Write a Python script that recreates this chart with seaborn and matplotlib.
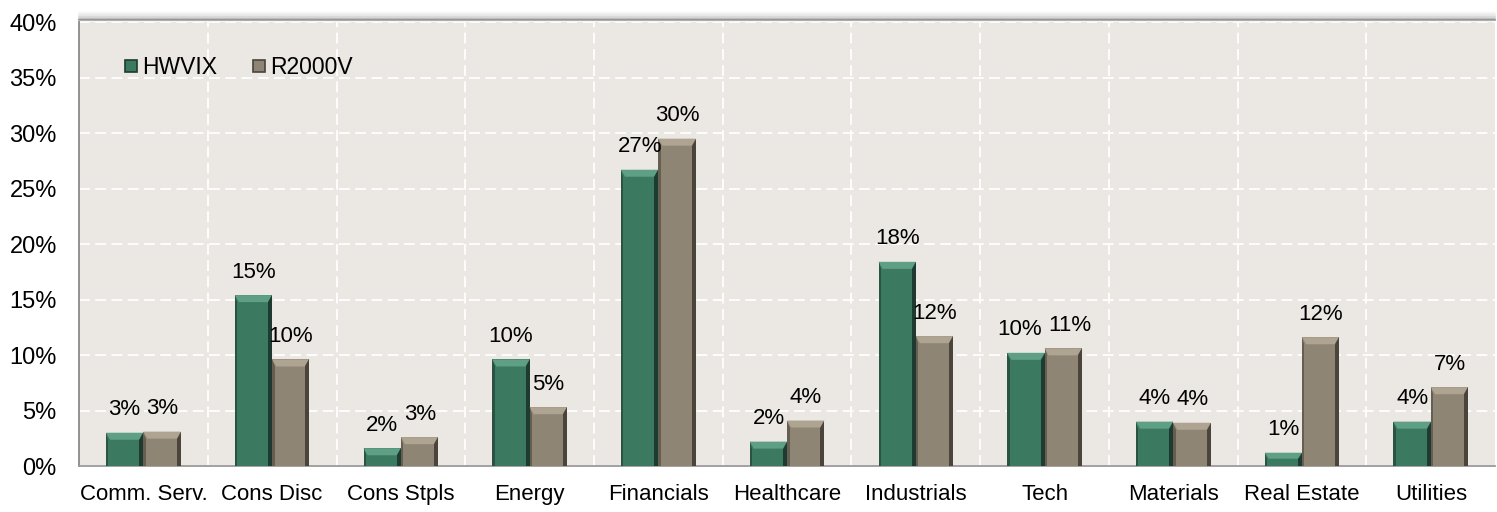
import pandas as pd
import numpy as np
import seaborn as sns
import matplotlib.pyplot as plt
from matplotlib.patches import Polygon
from matplotlib.lines import Line2D
from matplotlib.ticker import FuncFormatter, MultipleLocator, FixedLocator

# data (% weight by sector)
sectors = ['Comm. Serv.', 'Cons Disc', 'Cons Stpls', 'Energy', 'Financials', 'Healthcare',
           'Industrials', 'Tech', 'Materials', 'Real Estate', 'Utilities']
hwvix = [3.0, 15.4, 1.6, 9.6, 26.7, 2.2, 18.4, 10.2, 4.0, 1.2, 4.0]
r2000v = [3.1, 9.6, 2.6, 5.3, 29.5, 4.1, 11.7, 10.6, 3.9, 11.6, 7.1]
funds = ['HWVIX', 'R2000V']

df = pd.DataFrame({
    'sector': sectors * 2,
    'weight': hwvix + r2000v,
    'fund': [funds[0]] * len(sectors) + [funds[1]] * len(sectors),
})

colors = {'HWVIX': '#3b7a61', 'R2000V': '#8e8574'}
light = {'HWVIX': '#5e9f85', 'R2000V': '#aea491'}
dark = {'HWVIX': '#1d3b30', 'R2000V': '#4a443a'}
bg = '#ebe8e3'

sns.set_style('white')
plt.rcParams['font.family'] = ['Liberation Sans', 'DejaVu Sans']

fig = plt.figure(figsize=(14.97, 5.12), dpi=100)
ax = fig.add_axes([0.0528, 0.0898, 0.946, 0.867])
ax.set_facecolor(bg)

sns.barplot(data=df, x='sector', y='weight', hue='fund', hue_order=funds,
            palette=colors, width=0.58, gap=0, saturation=1, linewidth=0,
            legend=False, ax=ax, zorder=3)

ax.set_xlim(-0.5, len(sectors) - 0.5)
ax.set_ylim(0, 40)

# bevel look on every bar, built from the bar geometry
px_x = (len(sectors)) / (0.946 * 1497)
px_y = 40 / (0.867 * 512)
label_sets = []
for container, fund in zip(ax.containers, funds):
    for bar in container:
        x0, w, h = bar.get_x(), bar.get_width(), bar.get_height()
        if h <= 0:
            continue
        dx = 4 * px_x
        dy = min(7 * px_y, h * 0.45)
        top = Polygon([(x0, h), (x0 + w, h), (x0 + w - dx, h - dy), (x0 + dx, h - dy)],
                      closed=True, fc=light[fund], ec='none', zorder=4)
        right = Polygon([(x0 + w, h), (x0 + w, 0), (x0 + w - dx, 0), (x0 + w - dx, h - dy)],
                        closed=True, fc=dark[fund], ec='none', zorder=4)
        left = Polygon([(x0, h), (x0, 0), (x0 + dx * 0.6, 0), (x0 + dx * 0.6, h - dy)],
                       closed=True, fc=dark[fund], ec='none', alpha=0.6, zorder=4)
        for p in (top, right, left):
            ax.add_patch(p)
    texts = ax.bar_label(container, labels=[f'{b.get_height():.0f}%' for b in container],
                         padding=9, fontsize=16, color='black', zorder=5)
    label_sets.append(texts)

# push apart side-by-side labels that touch (like the Tech pair)
fig.canvas.draw()
renderer = fig.canvas.get_renderer()
for t1, t2 in zip(*label_sets):
    b1 = t1.get_window_extent(renderer)
    b2 = t2.get_window_extent(renderer)
    if b1.overlaps(b2) or (b2.x0 - b1.x1 < 6 and abs(b1.y0 - b2.y0) < b1.height):
        shift = (6 - (b2.x0 - b1.x1)) / 2 * 72 / fig.dpi
        t1.xyann = (t1.xyann[0] - shift, t1.xyann[1])
        t2.xyann = (t2.xyann[0] + shift, t2.xyann[1])

# grid
ax.yaxis.set_major_locator(MultipleLocator(5))
ax.yaxis.set_major_formatter(FuncFormatter(lambda v, p: f'{v:.0f}%'))
ax.xaxis.set_minor_locator(FixedLocator(np.arange(0.5, len(sectors) - 0.5, 1)))
ax.grid(True, axis='y', which='major', color='white', linestyle=(0, (6, 3)), linewidth=1.3, zorder=1)
ax.grid(True, axis='x', which='minor', color='white', linestyle=(0, (6, 3)), linewidth=1.3, zorder=1)
ax.set_axisbelow(True)

ax.tick_params(axis='y', length=0, pad=16, labelsize=17, labelcolor='black')
ax.tick_params(axis='x', which='both', length=0, pad=13, labelsize=16, labelcolor='black')
ax.set_xlabel('')
ax.set_ylabel('')

for s in ['top', 'right']:
    ax.spines[s].set_visible(False)
ax.spines['left'].set_color('#8a8a8a')
ax.spines['left'].set_linewidth(1.3)
ax.spines['bottom'].set_color('#9a9a9a')
ax.spines['bottom'].set_linewidth(1.3)

# soft shadow along the top of the plot area
for i, a in enumerate([0.55, 0.4, 0.25, 0.14, 0.07]):
    ax.plot([0, 1], [1 + (i + 1) * 0.004] * 2, transform=ax.transAxes, color='#707070',
            alpha=a, linewidth=1.6, clip_on=False, zorder=0)

handles = [Line2D([], [], marker='s', linestyle='none', markersize=9,
                  markerfacecolor=colors[f], markeredgecolor=dark[f], markeredgewidth=1.2)
           for f in funds]
ax.legend(handles, funds, loc='upper left', bbox_to_anchor=(0.014, 0.97), ncol=2,
          frameon=False, fontsize=16.5, handletextpad=0.0, columnspacing=1.3,
          handlelength=1.0, labelcolor='black')

fig.savefig('out.png', dpi=100)
